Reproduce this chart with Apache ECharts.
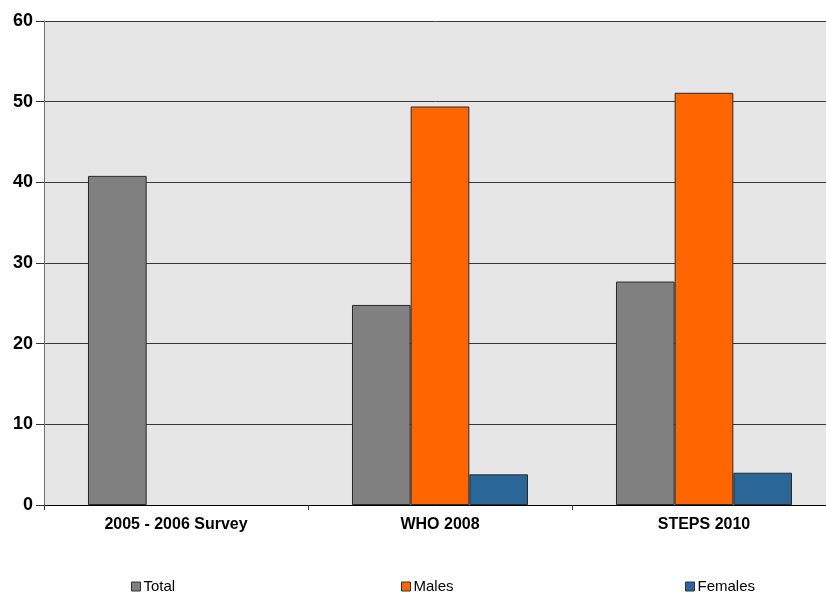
<!DOCTYPE html>
<html>
<head>
<meta charset="utf-8">
<script src="https://cdn.jsdelivr.net/npm/echarts@6/dist/echarts.min.js"></script>
<style>
  html, body { margin: 0; padding: 0; background: #ffffff; }
  #chart { width: 826px; height: 595px; }
</style>
</head>
<body>
<div id="chart"></div>
<script>
// Survey rounds along the x axis
const categories = ['2005 - 2006 Survey', 'WHO 2008', 'STEPS 2010'];

// Prevalence values per group ('-' = not reported)
const totalValues = [40.8, 24.8, 27.7];
const maleValues = ['-', 49.4, 51.1];
const femaleValues = ['-', 3.8, 4.0];

// Value axis range and step
const yMin = 0;
const yMax = 60;
const yStep = 10;

const seriesNames = ['Total', 'Males', 'Females'];
const seriesColors = ['#808080', '#ff6600', '#2a6697'];
const seriesData = [totalValues, maleValues, femaleValues];

const FONT = '"Liberation Sans", Arial, sans-serif';

const chart = echarts.init(document.getElementById('chart'), null, { renderer: 'canvas' });

const legendLefts = [131, 401, 685];

chart.setOption({
  animation: false,
  backgroundColor: '#ffffff',
  grid: {
    left: 44,
    top: 21,
    width: 792,
    height: 484,
    containLabel: false,
    outerBoundsMode: 'none',
    show: true,
    backgroundColor: '#e6e6e6',
    borderWidth: 0
  },
  legend: seriesNames.map((name, i) => ({
    data: [{ name: name, icon: 'rect' }],
    left: legendLefts[i],
    top: 579,
    padding: 0,
    itemWidth: 9,
    itemHeight: 9,
    itemGap: 0,
    itemStyle: { borderColor: '#333333', borderWidth: 1 },
    textStyle: { fontFamily: FONT, fontSize: 15, color: '#000000', padding: [0, 0, 0, -2] }
  })),
  xAxis: {
    type: 'category',
    data: categories,
    boundaryGap: true,
    axisLine: { show: true, lineStyle: { color: '#000000', width: 1 } },
    axisTick: { show: true, length: 5, lineStyle: { color: '#333333' } },
    axisLabel: {
      fontFamily: FONT,
      fontSize: 16,
      fontWeight: 'bold',
      color: '#000000',
      margin: 12
    }
  },
  yAxis: {
    type: 'value',
    min: yMin,
    max: yMax,
    interval: yStep,
    axisLine: { show: true, lineStyle: { color: '#707070', width: 1 } },
    axisTick: { show: true, length: 8, lineStyle: { color: '#333333' } },
    axisLabel: {
      fontFamily: FONT,
      fontSize: 18,
      fontWeight: 'bold',
      color: '#000000',
      margin: 11
    },
    splitLine: { show: true, lineStyle: { color: '#383838', width: 1 } }
  },
  series: seriesNames.map((name, i) => ({
    name: name,
    type: 'bar',
    data: seriesData[i],
    barGap: 0,
    barCategoryGap: '33.33%',
    itemStyle: {
      color: seriesColors[i],
      borderColor: '#2a2a2a',
      borderWidth: 1
    }
  }))
});
</script>
</body>
</html>
